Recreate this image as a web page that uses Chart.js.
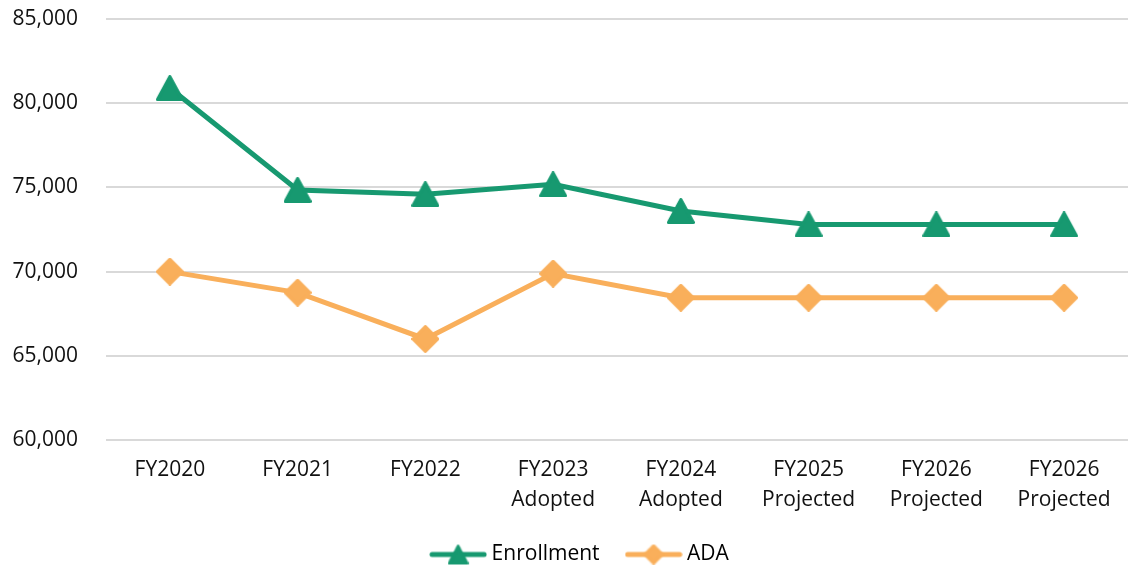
<!DOCTYPE html>
<html>
<head>
<meta charset="utf-8">
<script src="https://cdn.jsdelivr.net/npm/chart.js@4.4.0/dist/chart.umd.min.js"></script>
<style>
  html, body { margin: 0; padding: 0; background: #fff; }
</style>
</head>
<body>
<canvas id="enrollChart" width="1128" height="565"></canvas>
<script>
const categories = [
  ["FY2020"], ["FY2021"], ["FY2022"], ["FY2023", "Adopted"], ["FY2024", "Adopted"],
  ["FY2025", "Projected"], ["FY2026", "Projected"], ["FY2026", "Projected"]
];
const enrollment = [80900, 74850, 74600, 75180, 73600, 72800, 72800, 72800];
const ada = [70000, 68750, 66000, 69880, 68450, 68450, 68450, 68450];
const yMin = 60000;
const yMax = 85000;
const yStep = 5000;

const GREEN = '#179970';
const ORANGE = '#F9AF5B';

// marker images (shape only, positions come from the scales)
function triangleMarker(color) {
  let c = document.createElement('canvas');
  c.width = 28; c.height = 26;
  let g = c.getContext('2d');
  g.fillStyle = color; g.strokeStyle = color;
  g.lineWidth = 3; g.lineJoin = 'round';
  g.beginPath();
  g.moveTo(14, 1.5); g.lineTo(26.5, 24.5); g.lineTo(1.5, 24.5); g.closePath();
  g.fill(); g.stroke();
  return c;
}

function diamondMarker(color) {
  let c = document.createElement('canvas');
  c.width = 28; c.height = 28;
  let g = c.getContext('2d');
  g.fillStyle = color; g.strokeStyle = color;
  g.lineWidth = 3; g.lineJoin = 'round';
  g.beginPath();
  g.moveTo(14, 1.5); g.lineTo(26.5, 14); g.lineTo(14, 26.5); g.lineTo(1.5, 14); g.closePath();
  g.fill(); g.stroke();
  return c;
}

function smallMarker(src, s) {
  let c = document.createElement('canvas');
  c.width = Math.round(src.width * s); c.height = Math.round(src.height * s);
  c.getContext('2d').drawImage(src, 0, 0, c.width, c.height);
  return c;
}

function legendIcon(color, marker) {
  let m = smallMarker(marker, 0.75);
  let c = document.createElement('canvas');
  c.width = 58; c.height = 24;
  let g = c.getContext('2d');
  g.strokeStyle = color; g.lineWidth = 5; g.lineCap = 'round';
  g.beginPath(); g.moveTo(3, 12); g.lineTo(55, 12); g.stroke();
  g.drawImage(m, 29 - m.width / 2, 12 - m.height / 2);
  return c;
}

const triImg = triangleMarker(GREEN);
const diaImg = diamondMarker(ORANGE);
const legendIcons = [legendIcon(GREEN, triImg), legendIcon(ORANGE, diaImg)];

// nudge the legend a bit right, like the original
const legendShift = {
  id: 'legendShift',
  afterLayout(chart) {
    if (chart.legend) {
      chart.legend.left += 16;
      chart.legend.right += 16;
    }
  }
};

Chart.defaults.font.family = '"Open Sans", sans-serif';
Chart.defaults.font.size = 21;
Chart.defaults.color = '#111';

let ctx = document.getElementById('enrollChart');
let myChart = new Chart(ctx, {
  type: 'line',
  data: {
    labels: categories,
    datasets: [{
      label: 'Enrollment',
      data: enrollment,
      borderColor: GREEN,
      backgroundColor: GREEN,
      borderWidth: 5,
      pointStyle: triImg,
      pointRadius: 13,
      tension: 0
    }, {
      label: 'ADA',
      data: ada,
      borderColor: ORANGE,
      backgroundColor: ORANGE,
      borderWidth: 5,
      pointStyle: diaImg,
      pointRadius: 13,
      tension: 0
    }]
  },
  plugins: [legendShift],
  options: {
    responsive: false,
    animation: false,
    events: [],
    layout: { autoPadding: false, padding: { top: 19, right: -4, left: 0, bottom: -10 } },
    scales: {
      x: {
        offset: true,
        grid: { display: false, drawTicks: false },
        border: { display: false },
        ticks: { padding: 15, maxRotation: 0, autoSkip: false, font: { lineHeight: 1.43 } },
        afterFit: function(scale) { scale.height = 73; }
      },
      y: {
        min: yMin,
        max: yMax,
        grid: { color: '#D9D9D9', lineWidth: 2, drawTicks: true, tickLength: 28, tickColor: 'rgba(0,0,0,0)' },
        border: { display: false },
        ticks: {
          stepSize: yStep,
          padding: 0,
          callback: function(v) { return v.toLocaleString('en-US'); }
        },
        afterFit: function(scale) { scale.width = 106; }
      }
    },
    plugins: {
      tooltip: { enabled: false },
      legend: {
        position: 'bottom',
        labels: {
          usePointStyle: true,
          pointStyleWidth: 46,
          padding: 31,
          generateLabels: function(chart) {
            return chart.data.datasets.map(function(ds, i) {
              return {
                text: ds.label,
                pointStyle: legendIcons[i],
                fillStyle: ds.borderColor,
                strokeStyle: ds.borderColor,
                lineWidth: 0,
                hidden: false,
                datasetIndex: i
              };
            });
          }
        }
      }
    }
  }
});
</script>
</body>
</html>
